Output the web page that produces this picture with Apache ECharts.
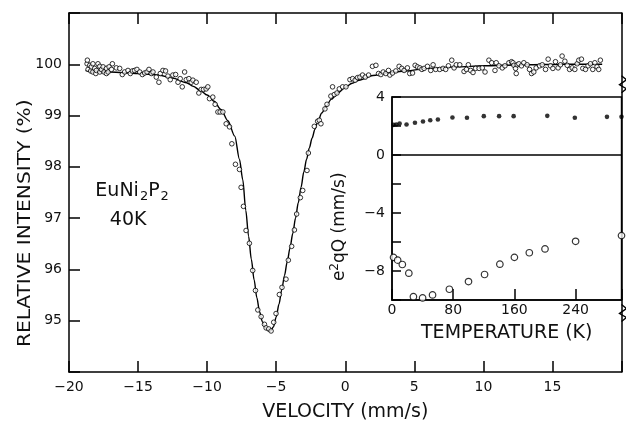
<!DOCTYPE html>
<html><head><meta charset="utf-8">
<script src="https://cdn.jsdelivr.net/npm/echarts@6/dist/echarts.min.js"></script>
<style>html,body{margin:0;padding:0;background:#fff}#c{width:626px;height:428px}</style>
</head><body><div id="c"></div>
<script>
// Mössbauer spectrum: measured points (velocity mm/s, relative intensity %)
const velocity = [-18.69,-18.67,-18.62,-18.50,-18.43,-18.38,-18.27,-18.27,-18.14,-18.06,-18.02,-17.90,-17.77,-17.77,-17.65,-17.53,-17.46,-17.29,-17.29,-17.17,-17.10,-16.93,-16.86,-16.57,-16.33,-16.14,-15.97,-15.73,-15.56,-15.41,-15.25,-15.08,-14.88,-14.69,-14.52,-14.35,-14.21,-14.04,-13.92,-13.68,-13.49,-13.39,-13.20,-13.01,-12.84,-12.67,-12.48,-12.28,-12.11,-11.95,-11.80,-11.63,-11.51,-11.32,-11.15,-11.03,-10.79,-10.60,-10.43,-10.26,-10.07,-9.95,-9.83,-9.59,-9.42,-9.22,-9.06,-8.86,-8.62,-8.38,-8.21,-7.95,-7.66,-7.54,-7.37,-7.18,-6.94,-6.70,-6.50,-6.33,-6.09,-5.85,-5.73,-5.54,-5.37,-5.18,-5.01,-4.77,-4.58,-4.29,-4.12,-3.88,-3.68,-3.52,-3.25,-3.08,-2.77,-2.67,-2.24,-2.00,-1.88,-1.76,-1.47,-1.32,-1.04,-0.92,-0.79,-0.60,-0.43,-0.19,0.05,0.34,0.53,0.72,0.89,1.06,1.25,1.45,1.69,1.97,2.22,2.41,2.58,2.75,2.94,3.13,3.23,3.42,3.66,3.90,4.09,4.26,4.50,4.67,4.87,5.06,5.23,5.40,5.55,5.71,5.95,6.19,6.36,6.55,6.84,7.08,7.27,7.47,7.71,7.88,8.04,8.29,8.60,8.77,8.91,9.08,9.25,9.44,9.69,9.92,10.12,10.40,10.60,10.84,10.93,11.13,11.37,11.56,11.85,12.04,12.14,12.21,12.33,12.38,12.45,12.57,12.76,12.93,13.17,13.34,13.49,13.65,13.82,14.07,14.26,14.50,14.69,14.86,15.03,15.22,15.41,15.58,15.70,15.90,16.07,16.24,16.43,16.62,16.79,16.91,17.10,17.20,17.39,17.58,17.75,17.92,18.07,18.23,18.35,18.47];
const intensity = [100.01,100.08,99.90,99.98,99.87,99.95,100.01,99.85,99.92,99.82,99.88,100.01,99.96,99.85,99.90,99.95,99.85,99.92,99.82,99.85,99.95,99.90,100.01,99.93,99.92,99.80,99.85,99.88,99.82,99.87,99.88,99.90,99.85,99.80,99.83,99.85,99.90,99.82,99.85,99.75,99.65,99.82,99.88,99.87,99.77,99.70,99.79,99.80,99.65,99.72,99.56,99.85,99.70,99.72,99.65,99.69,99.65,99.44,99.51,99.51,99.52,99.56,99.33,99.36,99.22,99.07,99.07,99.07,98.84,98.78,98.45,98.05,97.95,97.60,97.23,96.76,96.51,95.98,95.59,95.21,95.08,94.93,94.86,94.84,94.80,94.97,95.14,95.51,95.65,95.81,96.18,96.45,96.77,97.08,97.40,97.54,97.93,98.27,98.79,98.89,98.91,98.84,99.13,99.22,99.38,99.56,99.41,99.44,99.52,99.56,99.56,99.70,99.72,99.69,99.74,99.75,99.79,99.75,99.79,99.96,99.98,99.82,99.80,99.85,99.82,99.88,99.79,99.83,99.87,99.96,99.92,99.88,99.93,99.82,99.83,99.98,99.95,99.93,99.90,99.92,99.96,99.88,99.99,99.90,99.90,99.92,99.90,99.97,100.08,99.93,99.99,99.99,99.86,99.90,99.99,99.88,99.84,99.92,99.92,99.93,99.85,100.08,100.03,99.88,100.03,99.97,99.93,99.97,100.03,100.05,100.03,99.98,99.92,99.82,99.99,100.01,99.97,100.03,99.99,99.90,99.82,99.85,99.93,99.97,99.99,99.90,100.10,99.97,99.92,100.05,99.93,99.99,100.16,100.06,99.98,99.90,99.93,99.90,100.01,100.08,100.10,99.92,99.90,99.97,100.01,99.90,100.03,99.95,99.90,100.08];
// Fitted curve
const fitVelocity = [-18.8,-17,-15,-13.5,-12.5,-11.5,-11,-10.5,-10,-9.5,-9,-8.5,-8,-7.66,-7.42,-7.2,-7.0,-6.8,-6.6,-6.4,-6.2,-6.0,-5.8,-5.6,-5.4,-5.2,-5.0,-4.8,-4.6,-4.4,-4.2,-4.0,-3.8,-3.6,-3.4,-3.2,-3.0,-2.8,-2.6,-2.4,-2.2,-2.0,-1.7,-1.4,-1.0,-0.5,0,0.5,1,2,3,4.4,6,8,10,13,16,18.6];
const fitIntensity = [99.88,99.85,99.82,99.79,99.73,99.64,99.57,99.49,99.40,99.28,99.12,98.90,98.60,98.15,97.75,97.15,96.65,96.20,95.80,95.45,95.17,94.98,94.87,94.81,94.80,94.88,95.07,95.32,95.60,95.88,96.15,96.42,96.70,97.00,97.30,97.60,97.90,98.15,98.37,98.56,98.73,98.87,99.05,99.18,99.32,99.45,99.55,99.63,99.69,99.78,99.83,99.87,99.92,99.95,99.97,99.99,100.0,100.0];
// Inset: e^2qQ vs temperature
const tempFilled = [2,5.6,10,19,30,40.5,50,60,79,98,120,140,159,203,239,281,300];
const eqqFilled = [2.08,2.10,2.17,2.10,2.22,2.31,2.40,2.45,2.59,2.57,2.68,2.68,2.68,2.70,2.57,2.63,2.63];
const tempOpen = [2,7.4,13.5,22,28,40,53,75,100,121,141,160,179.5,200,240,300];
const eqqOpen = [-7.06,-7.25,-7.55,-8.15,-9.77,-9.86,-9.65,-9.26,-8.73,-8.24,-7.53,-7.06,-6.74,-6.48,-5.95,-5.56];
// Tick labels
const velocityTicks = [-20,-15,-10,-5,0,5,10,15];
const intensityTicks = [95,96,97,98,99,100];
const tempTicks = [0,80,160,240];
const eqqTicks = [4,0,-4,-8];

const FONT = 'DejaVu Sans';
const INK = '#111';
const minus = v => (v < 0 ? '\u2212' + (-v) : String(v));
const zip = (a, b) => a.map((x, i) => [x, b[i]]);

const chart = echarts.init(document.getElementById('c'), null, {renderer: 'canvas'});
const axLine = {onZero: false, lineStyle: {color: '#000', width: 1.5}};
const tickIn = len => ({inside: true, length: len, lineStyle: {color: '#000', width: 1.5}});
const lab = (show, fmt, margin) => ({show: show, fontFamily: FONT, fontSize: 14, color: INK, margin: margin, formatter: fmt});

chart.setOption({
  animation: false,
  backgroundColor: '#fff',
  textStyle: {fontFamily: FONT},
  grid: [
    {left: 69, right: 4.5, top: 13, bottom: 56},
    {left: 392, right: 4.5, top: 97, bottom: 128, show: true, backgroundColor: '#fff', borderColor: '#000', borderWidth: 1.4}
  ],
  xAxis: [
    {gridIndex: 0, type: 'value', min: -20, max: 20, interval: 5, position: 'bottom',
     name: 'VELOCITY (mm/s)', nameLocation: 'middle', nameGap: 31,
     nameTextStyle: {fontFamily: FONT, fontSize: 19, color: INK},
     axisLine: axLine, axisTick: tickIn(11), splitLine: {show: false},
     axisLabel: lab(true, v => velocityTicks.includes(v) ? minus(v) : '', 8)},
    {gridIndex: 0, type: 'value', min: -20, max: 20, interval: 5, position: 'top',
     axisLine: axLine, axisTick: tickIn(11), splitLine: {show: false}, axisLabel: {show: false}},
    {gridIndex: 1, type: 'value', min: 0, max: 300, interval: 80, position: 'bottom',
     name: 'TEMPERATURE (K)', nameLocation: 'middle', nameGap: 24,
     nameTextStyle: {fontFamily: FONT, fontSize: 19, color: INK},
     axisLine: axLine, axisTick: tickIn(11), splitLine: {show: false},
     axisLabel: lab(true, v => tempTicks.includes(v) ? String(v) : '', 3)}
  ],
  yAxis: [
    {gridIndex: 0, type: 'value', min: 94, max: 101, interval: 1, position: 'left',
     axisLine: axLine, axisTick: tickIn(11), splitLine: {show: false},
     axisLabel: lab(true, v => intensityTicks.includes(v) ? String(v) : '', 7)},
    {gridIndex: 0, type: 'value', min: 94, max: 101, interval: 1, position: 'right',
     axisLine: axLine, axisTick: {show: false}, splitLine: {show: false}, axisLabel: {show: false}},
    {gridIndex: 1, type: 'value', min: -10, max: 4, interval: 2, position: 'left',
     axisLine: axLine, axisTick: tickIn(9), splitLine: {show: false},
     axisLabel: lab(true, v => eqqTicks.includes(v) ? minus(v) : '', 7)}
  ],
  series: [
    {type: 'line', xAxisIndex: 0, yAxisIndex: 0, data: zip(fitVelocity, fitIntensity),
     smooth: 0.3, smoothMonotone: 'x', showSymbol: false, lineStyle: {color: '#000', width: 1.4}, z: 2},
    {type: 'scatter', xAxisIndex: 0, yAxisIndex: 0, data: zip(velocity, intensity),
     symbol: 'circle', symbolSize: 4.6, itemStyle: {color: '#fff', borderColor: '#000', borderWidth: 1}, z: 3},
    {type: 'scatter', xAxisIndex: 2, yAxisIndex: 2, data: zip(tempFilled, eqqFilled), clip: false,
     symbol: 'circle', symbolSize: 4.6, itemStyle: {color: '#000'}, z: 4,
     markLine: {silent: true, symbol: 'none', label: {show: false},
       lineStyle: {color: '#000', width: 1.5, type: 'solid'}, data: [{yAxis: 0}]}},
    {type: 'scatter', xAxisIndex: 2, yAxisIndex: 2, data: zip(tempOpen, eqqOpen), clip: false,
     symbol: 'circle', symbolSize: 6.5, itemStyle: {color: '#fff', borderColor: '#000', borderWidth: 1.2}, z: 4}
  ]
});

const P = (v, y) => chart.convertToPixel({xAxisIndex: 0, yAxisIndex: 0}, [v, y]);
const Q = (t, y) => chart.convertToPixel({xAxisIndex: 2, yAxisIndex: 2}, [t, y]);
const brk = c => ({type: 'polyline', silent: true, z: 10,
  shape: {points: [[c[0], c[1] - 8], [c[0] + 5, c[1] - 4], [c[0] - 2, c[1] + 1], [c[0] + 5, c[1] + 5], [c[0], c[1] + 9]]},
  style: {stroke: '#000', lineWidth: 1.4, fill: null}});
const euPos = P(-15.43, 97.52), kPos = P(-15.72, 96.97);
const yName = P(-20, 96.9), eName = Q(0, -4.95);
chart.setOption({graphic: [
  {type: 'text', x: euPos[0], y: euPos[1], z: 10, silent: true,
   style: {text: '{n|EuNi}{s|2}{n|P}{s|2}', align: 'center', verticalAlign: 'middle', fill: INK,
     rich: {n: {fontFamily: FONT, fontSize: 19, lineHeight: 24, fill: INK},
            s: {fontFamily: FONT, fontSize: 13, lineHeight: 13, padding: [11, 0, 0, 1], fill: INK}}}},
  {type: 'text', x: kPos[0], y: kPos[1], z: 10, silent: true,
   style: {text: '40K', font: '19px "DejaVu Sans"', align: 'center', verticalAlign: 'middle', fill: INK}},
  {type: 'text', x: yName[0] - 44, y: yName[1], rotation: Math.PI / 2, scaleX: 1.12, z: 10, silent: true,
   style: {text: 'RELATIVE INTENSITY (%)', font: '18px "DejaVu Sans"', align: 'center', verticalAlign: 'middle', fill: INK}},
  {type: 'text', x: eName[0] - 52, y: eName[1], rotation: Math.PI / 2, z: 10, silent: true,
   style: {text: 'e{sup|2}qQ (mm/s)', align: 'center', verticalAlign: 'middle', fill: INK,
     font: '17px "DejaVu Sans"',
     rich: {sup: {fontFamily: FONT, fontSize: 12, lineHeight: 12, padding: [0, 0, 10, 0], fill: INK}}}},
  brk(P(20, 99.62)),
  brk(P(20, 95.16))
]});
</script>
</body></html>
